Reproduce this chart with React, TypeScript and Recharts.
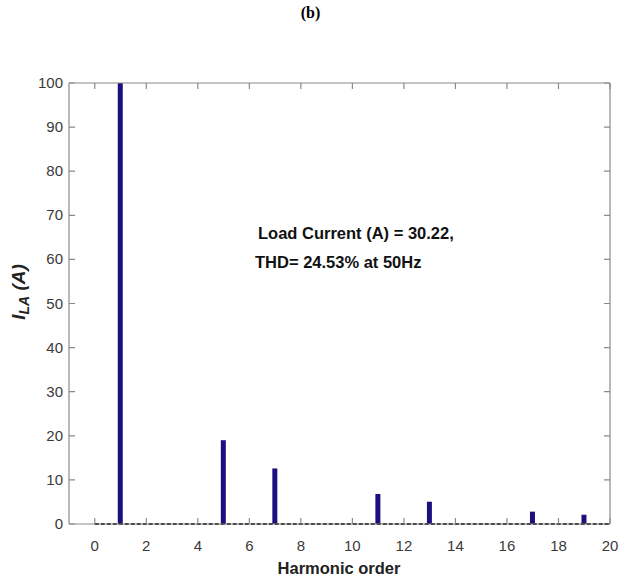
import React from 'react';
import { ComposedChart, Bar, XAxis, YAxis, ReferenceLine } from 'recharts';

// harmonic spectrum of load current
const harmonics = [1, 5, 7, 11, 13, 17, 19];
const amplitudes = [100, 19, 12.6, 6.8, 5.05, 2.8, 2.1];
const xTicks = [0, 2, 4, 6, 8, 10, 12, 14, 16, 18, 20];
const yTicks = [0, 10, 20, 30, 40, 50, 60, 70, 80, 90, 100];

const data = harmonics.map((h, i) => ({ h, amp: amplitudes[i] }));

const axisGray = '#8a8a8a';
const labelColor = '#3a3a3a';
const font = '"Liberation Sans", Arial, sans-serif';
const TL = 6; // inward tick length

// MATLAB-like inward ticks, label outside
const BottomTick = (p: any) => (
  <g>
    <path d={`M${p.x},${p.y}L${p.x},${p.y - TL}`} stroke={axisGray} strokeWidth={1.2} />
    <text x={p.x} y={p.y + 27} textAnchor="middle" fill={labelColor} fontSize={15} fontFamily={font}>
      {p.payload.value}
    </text>
  </g>
);
const LeftLabel = (p: any) => (
  <text x={p.x - 6} y={p.y + 5} textAnchor="end" fill={labelColor} fontSize={15} fontFamily={font}>
    {p.payload.value}
  </text>
);
const TopTick = (p: any) => <path d={`M${p.x},${p.y}L${p.x},${p.y + TL}`} stroke={axisGray} strokeWidth={1.2} />;

// short inward ticks at both ends of a horizontal reference line
const EdgeTicks = (p: any) => {
  const lo = Math.min(p.x1, p.x2);
  const hi = Math.max(p.x1, p.x2);
  return (
    <path
      d={`M${lo},${p.y1}L${lo + TL},${p.y1}M${hi - TL},${p.y2}L${hi},${p.y2}`}
      stroke={axisGray}
      strokeWidth={1.2}
      fill="none"
    />
  );
};

const line = { stroke: axisGray, strokeWidth: 1.2 };

export default function App() {
  return (
    <div style={{ position: 'absolute', left: 0, top: 0, width: 621, height: 586, background: '#fff', fontFamily: font }}>
      <div style={{ position: 'absolute', left: 0, width: 621, top: 4, textAlign: 'center', fontFamily: '"Liberation Serif", serif', fontWeight: 'bold', fontSize: 16 }}>
        (b)
      </div>

      <ComposedChart width={621} height={586} data={data} margin={{ top: 82, right: 10, bottom: 22, left: 29 }}>
        <XAxis
          xAxisId="b"
          dataKey="h"
          type="number"
          domain={[-1, 20]}
          ticks={xTicks}
          allowDataOverflow
          height={40}
          axisLine={line}
          tickLine={false}
          tickSize={0}
          tickMargin={0}
          tick={BottomTick}
        />
        <XAxis
          xAxisId="t"
          orientation="top"
          dataKey="h"
          type="number"
          domain={[-1, 20]}
          ticks={xTicks}
          allowDataOverflow
          height={1}
          axisLine={line}
          tickLine={false}
          tickSize={0}
          tickMargin={0}
          tick={TopTick}
        />
        <YAxis
          yAxisId="l"
          type="number"
          domain={[0, 100]}
          ticks={yTicks}
          width={40}
          axisLine={line}
          tickLine={false}
          tickSize={0}
          tickMargin={0}
          tick={LeftLabel}
        />
        <YAxis
          yAxisId="r"
          orientation="right"
          type="number"
          domain={[0, 100]}
          ticks={yTicks}
          width={1}
          axisLine={line}
          tickLine={false}
          tick={false}
        />
        {yTicks.map((t) => (
          <ReferenceLine key={t} xAxisId="b" yAxisId="l" y={t} shape={EdgeTicks} />
        ))}
        <Bar xAxisId="b" yAxisId="l" dataKey="amp" fill="#1c0f80" barSize={5} isAnimationActive={false} />
        <ReferenceLine
          xAxisId="b"
          yAxisId="l"
          segment={[{ x: 0, y: 0 }, { x: 20, y: 0 }]}
          stroke="#111"
          strokeWidth={2}
          strokeDasharray="4 2"
        />
      </ComposedChart>

      <div style={{ position: 'absolute', left: 255, top: 219, fontWeight: 'bold', fontSize: 16.5, color: '#111', lineHeight: '29px', whiteSpace: 'nowrap' }}>
        <div style={{ paddingLeft: 3 }}>Load Current (A) = 30.22,</div>
        <div>THD= 24.53% at 50Hz</div>
      </div>

      <div style={{ position: 'absolute', left: 0, width: 621, top: 559, paddingLeft: 57, boxSizing: 'border-box', textAlign: 'center', fontWeight: 'bold', fontSize: 16.5, color: '#222' }}>
        Harmonic order
      </div>

      <div
        style={{
          position: 'absolute',
          left: 20,
          top: 292,
          transform: 'translate(-50%, -50%) rotate(-90deg)',
          fontWeight: 'bold',
          fontStyle: 'italic',
          fontSize: 19,
          color: '#222',
          whiteSpace: 'nowrap',
        }}
      >
        I<sub style={{ fontSize: 14 }}>LA</sub> (A)
      </div>
    </div>
  );
}
